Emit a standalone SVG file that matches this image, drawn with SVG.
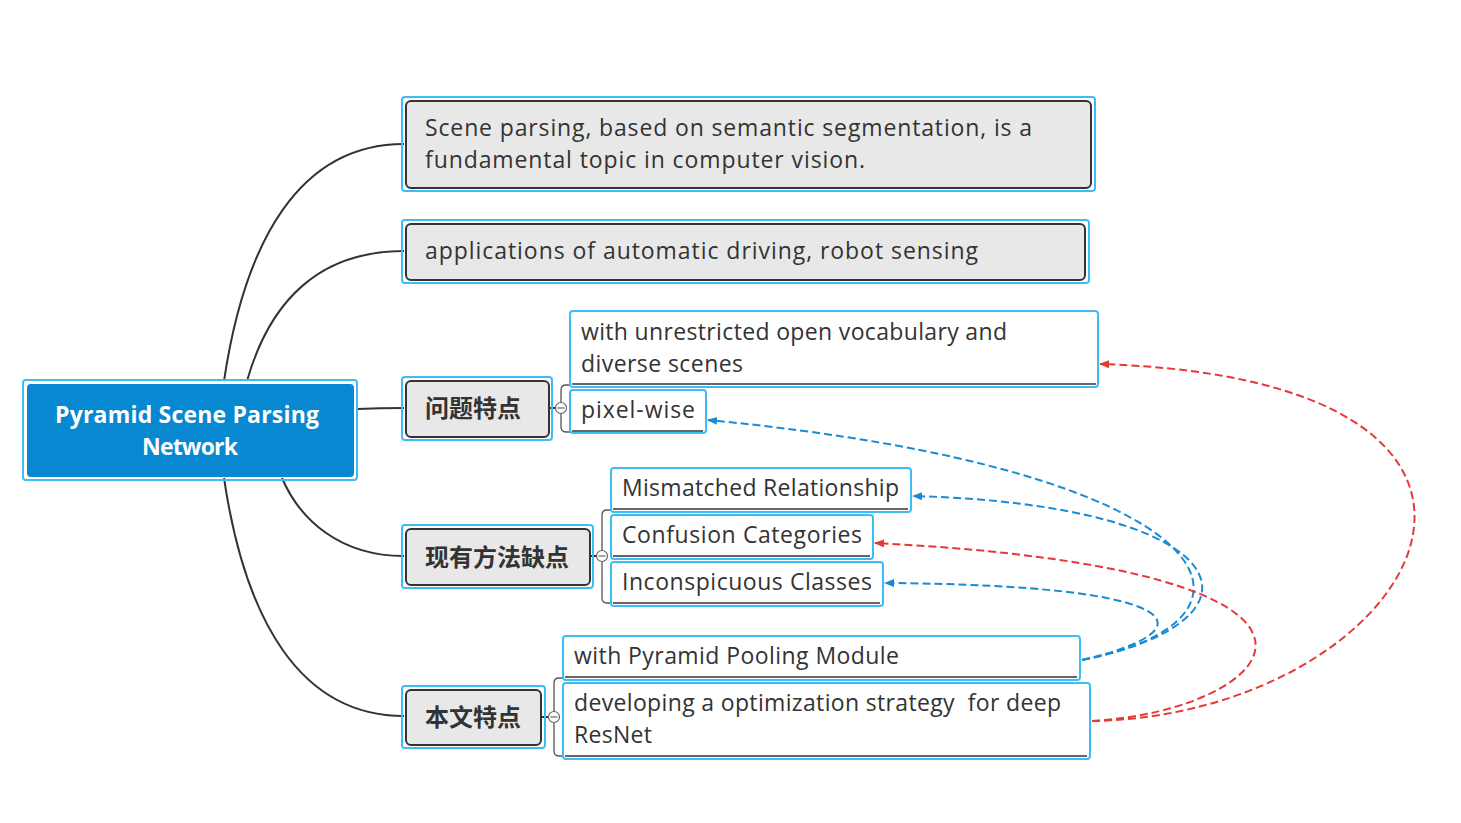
<svg xmlns="http://www.w3.org/2000/svg" width="1461" height="823" viewBox="0 0 1461 823">
<defs>
<style>
.sel{fill:none;stroke:#3dbcf6;stroke-width:2}
.topic{fill:#e8e8e8;stroke:#333;stroke-width:2}
.root{fill:#0888d0;stroke:none}
.t{font-family:"Open Sans","Noto Sans",sans-serif;font-size:23px;fill:#333}
.tc{font-family:"Noto Sans CJK SC",sans-serif;font-size:24px;font-weight:bold;fill:#333}
.tr{font-family:"Open Sans","Noto Sans",sans-serif;font-size:23px;font-weight:bold;fill:#fff}
.ul{stroke:#333;stroke-width:1.5}
.br{fill:none;stroke:#555;stroke-width:1.3}
.cc{fill:#fff;stroke:#666;stroke-width:1.2}
.main{fill:none;stroke:#333;stroke-width:2}
.rb{fill:none;stroke:#1a8ad4;stroke-width:2;stroke-dasharray:8 4}
.rr{fill:none;stroke:#e53935;stroke-width:2;stroke-dasharray:8 4}
</style>
<marker id="ab" markerWidth="10" markerHeight="8" refX="9" refY="4" orient="auto" markerUnits="userSpaceOnUse"><path d="M0,0 L10,4 L0,8 Z" fill="#1a8ad4"/></marker>
<marker id="ar" markerWidth="10" markerHeight="8" refX="9" refY="4" orient="auto" markerUnits="userSpaceOnUse"><path d="M0,0 L10,4 L0,8 Z" fill="#e53935"/></marker>
</defs>
<rect width="1461" height="823" fill="#fff"/>
<g id="connectors">
<path class="main" d="M224,381 C245,240 300,144 404,144"/>
<path class="main" d="M247,381 C270,300 320,251 404,251"/>
<path class="main" d="M357,409 C380,408 385,408 404,408"/>
<path class="main" d="M282,478 C300,520 340,556 404,556"/>
<path class="main" d="M224,478 C245,620 300,716 404,716"/>
<path class="main" d="M549,408 L556,408 M590,556 L597,556 M541,717 L548,717"/>
<path class="br" d="M570,385 L566,385 Q561,385 561,390 L561,427 Q561,432 566,432 L570,432"/>
<path class="br" d="M611,510 L607,510 Q602,510 602,515 L602,598 Q602,603 607,603 L611,603"/>
<path class="br" d="M563,678 L559,678 Q554,678 554,683 L554,751 Q554,756 559,756 L563,756"/>
<circle class="cc" cx="561" cy="408" r="5.5"/><path d="M557.5,408 H564.5" stroke="#666" stroke-width="1.2"/>
<circle class="cc" cx="602" cy="556" r="5.5"/><path d="M598.5,556 H605.5" stroke="#666" stroke-width="1.2"/>
<circle class="cc" cx="554" cy="717" r="5.5"/><path d="M550.5,717 H557.5" stroke="#666" stroke-width="1.2"/>
<path class="rb" d="M1082,660 C1290,620 1230,470 708,420" marker-end="url(#ab)"/>
<path class="rb" d="M1082,660 C1280,620 1240,505 913,496" marker-end="url(#ab)"/>
<path class="rb" d="M1082,660 C1210,630 1195,585 885,583" marker-end="url(#ab)"/>
<path class="rr" d="M1092,721 C1280,710 1410,570 875,543" marker-end="url(#ar)"/>
<path class="rr" d="M1092,721 C1420,715 1610,380 1100,364" marker-end="url(#ar)"/>
</g>
<g id="root">
<rect class="sel" x="23" y="380" width="334" height="100" rx="3"/>
<rect class="root" x="27" y="384" width="327" height="93" rx="4"/>
<text class="tr" x="55" y="423" textLength="264">Pyramid Scene Parsing</text>
<text class="tr" x="142" y="455" textLength="96">Network</text>
</g>
<g id="n1">
<rect class="sel" x="402" y="97" width="693" height="94" rx="3"/>
<rect class="topic" x="406" y="101" width="685" height="87" rx="5"/>
<text class="t" x="425" y="136" textLength="607">Scene parsing, based on semantic segmentation, is a</text>
<text class="t" x="425" y="168" textLength="440">fundamental topic in computer vision.</text>
</g>
<g id="n2">
<rect class="sel" x="402" y="220" width="687" height="63" rx="3"/>
<rect class="topic" x="406" y="224" width="679" height="56" rx="5"/>
<text class="t" x="425" y="259" textLength="553">applications of automatic driving, robot sensing</text>
</g>
<g id="n3">
<rect class="sel" x="402" y="377" width="150" height="63" rx="3"/>
<rect class="topic" x="406" y="381" width="143" height="56" rx="5"/>
<text class="tc" x="473" y="417" text-anchor="middle">问题特点</text>
</g>
<g id="n4">
<rect class="sel" x="402" y="525" width="191" height="63" rx="3"/>
<rect class="topic" x="406" y="529" width="184" height="56" rx="5"/>
<text class="tc" x="497" y="566" text-anchor="middle">现有方法缺点</text>
</g>
<g id="n5">
<rect class="sel" x="402" y="686" width="143" height="62" rx="3"/>
<rect class="topic" x="406" y="690" width="135" height="55" rx="5"/>
<text class="tc" x="473" y="726" text-anchor="middle">本文特点</text>
</g>
<g id="l1">
<rect class="sel" x="570" y="311" width="528" height="76" rx="3"/>
<line class="ul" x1="572" y1="384" x2="1096" y2="384"/>
<text class="t" x="581" y="340" textLength="426">with unrestricted open vocabulary and</text>
<text class="t" x="581" y="372" textLength="162">diverse scenes</text>
</g>
<g id="l2">
<rect class="sel" x="570" y="390" width="136" height="43" rx="3"/>
<line class="ul" x1="572" y1="431" x2="703" y2="431"/>
<text class="t" x="581" y="418" textLength="114">pixel-wise</text>
</g>
<g id="l3">
<rect class="sel" x="611" y="468" width="300" height="44" rx="3"/>
<line class="ul" x1="613" y1="509" x2="908" y2="509"/>
<text class="t" x="622" y="496" textLength="277">Mismatched Relationship</text>
</g>
<g id="l4">
<rect class="sel" x="611" y="515" width="262" height="44" rx="3"/>
<line class="ul" x1="613" y1="556" x2="870" y2="556"/>
<text class="t" x="622" y="543" textLength="240">Confusion Categories</text>
</g>
<g id="l5">
<rect class="sel" x="611" y="562" width="272" height="44" rx="3"/>
<line class="ul" x1="613" y1="603" x2="880" y2="603"/>
<text class="t" x="622" y="590" textLength="250">Inconspicuous Classes</text>
</g>
<g id="l6">
<rect class="sel" x="563" y="636" width="517" height="44" rx="3"/>
<line class="ul" x1="565" y1="677" x2="1077" y2="677"/>
<text class="t" x="574" y="664" textLength="325">with Pyramid Pooling Module</text>
</g>
<g id="l7">
<rect class="sel" x="563" y="683" width="527" height="76" rx="3"/>
<line class="ul" x1="565" y1="756" x2="1087" y2="756"/>
<text class="t" x="574" y="711" textLength="487" xml:space="preserve">developing a optimization strategy  for deep</text>
<text class="t" x="574" y="743" textLength="78">ResNet</text>
</g>
</svg>
